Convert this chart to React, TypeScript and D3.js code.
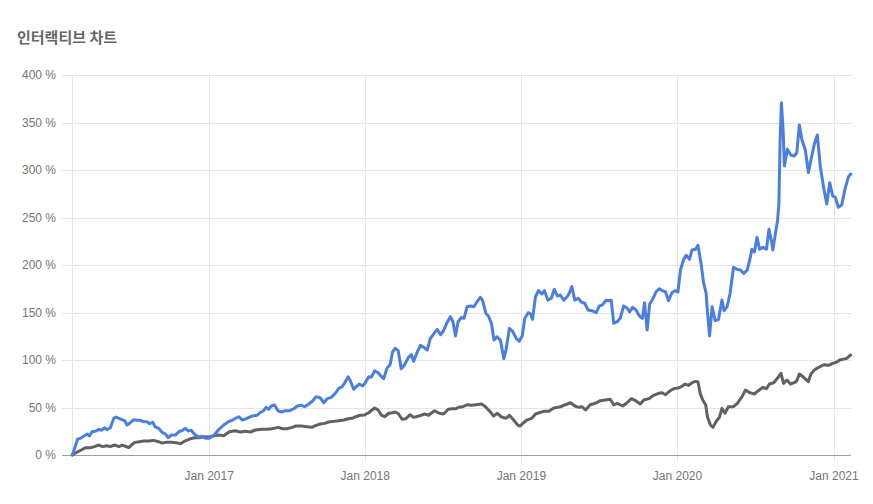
import React from "react";
import * as d3 from "d3";

const chartTitle = "인터랙티브 차트";
const yTickValues = [0, 50, 100, 150, 200, 250, 300, 350, 400];
const xTickDates = ["2017-01-01", "2018-01-01", "2019-01-01", "2020-01-01", "2021-01-01"];

const blueDates = [
  "2016-02-16","2016-02-29","2016-03-06","2016-03-14","2016-03-22","2016-03-27","2016-04-02","2016-04-10","2016-04-18","2016-04-24",
  "2016-05-02","2016-05-07","2016-05-15","2016-05-23","2016-05-28","2016-06-04","2016-06-12","2016-06-18","2016-06-23","2016-06-30",
  "2016-07-08","2016-07-16","2016-07-24","2016-08-01","2016-08-09","2016-08-14","2016-08-22","2016-08-28","2016-09-05","2016-09-13",
  "2016-09-21","2016-09-27","2016-10-05","2016-10-14","2016-10-22","2016-10-31","2016-11-06","2016-11-13","2016-11-20","2016-11-28",
  "2016-12-06","2016-12-15","2016-12-23","2017-01-01","2017-01-11","2017-01-23","2017-02-04","2017-02-15","2017-02-23","2017-03-02",
  "2017-03-11","2017-03-20","2017-03-30","2017-04-11","2017-04-23","2017-04-30","2017-05-08","2017-05-14","2017-05-20","2017-05-26",
  "2017-06-03","2017-06-11","2017-06-19","2017-06-28","2017-07-08","2017-07-18","2017-07-26","2017-08-05","2017-08-12","2017-08-22",
  "2017-08-31","2017-09-08","2017-09-18","2017-09-26","2017-10-04","2017-10-14","2017-10-23","2017-10-31","2017-11-08","2017-11-14",
  "2017-11-22","2017-11-27","2017-12-05","2017-12-11","2017-12-18","2017-12-26","2018-01-01","2018-01-09","2018-01-15","2018-01-23",
  "2018-01-31","2018-02-08","2018-02-13","2018-02-21","2018-02-28","2018-03-06","2018-03-12","2018-03-19","2018-03-26","2018-04-03",
  "2018-04-12","2018-04-19","2018-04-24","2018-05-02","2018-05-10","2018-05-18","2018-05-26","2018-06-02","2018-06-10","2018-06-18",
  "2018-06-26","2018-07-03","2018-07-11","2018-07-19","2018-07-25","2018-07-31","2018-08-06","2018-08-14","2018-08-20","2018-08-27",
  "2018-09-04","2018-09-12","2018-09-20","2018-09-27","2018-10-02","2018-10-10","2018-10-16","2018-10-23","2018-10-29","2018-11-05",
  "2018-11-13","2018-11-21","2018-11-26","2018-12-04","2018-12-12","2018-12-20","2018-12-27","2019-01-03","2019-01-09","2019-01-17",
  "2019-01-23","2019-01-27","2019-02-03","2019-02-10","2019-02-18","2019-02-24","2019-03-04","2019-03-12","2019-03-19","2019-03-26",
  "2019-04-02","2019-04-10","2019-04-18","2019-04-23","2019-04-29","2019-05-06","2019-05-14","2019-05-21","2019-05-29","2019-06-06",
  "2019-06-15","2019-06-25","2019-07-02","2019-07-10","2019-07-18","2019-07-24","2019-07-30","2019-08-05","2019-08-13","2019-08-20",
  "2019-08-28","2019-09-05","2019-09-11","2019-09-18","2019-09-26","2019-10-04","2019-10-11","2019-10-16","2019-10-22","2019-10-28",
  "2019-11-04","2019-11-12","2019-11-20","2019-11-27","2019-12-04","2019-12-11","2019-12-19","2019-12-27","2020-01-02","2020-01-08",
  "2020-01-15","2020-01-21","2020-01-29","2020-02-04","2020-02-12","2020-02-18","2020-02-25","2020-03-02","2020-03-08","2020-03-11",
  "2020-03-16","2020-03-22","2020-03-29","2020-04-06","2020-04-14","2020-04-19","2020-04-26","2020-05-03","2020-05-11","2020-05-19",
  "2020-05-27","2020-06-04","2020-06-12","2020-06-18","2020-06-23","2020-06-29","2020-07-05","2020-07-11","2020-07-19","2020-07-27",
  "2020-08-02","2020-08-08","2020-08-11","2020-08-17","2020-08-22","2020-08-25","2020-08-28","2020-08-31","2020-09-04","2020-09-07",
  "2020-09-14","2020-09-22","2020-09-30","2020-10-06","2020-10-12","2020-10-18","2020-10-26","2020-11-02","2020-11-08","2020-11-16",
  "2020-11-23","2020-11-30","2020-12-08","2020-12-15","2020-12-22","2020-12-29","2021-01-04","2021-01-11","2021-01-19","2021-01-27",
  "2021-02-04","2021-02-09"
];
const blueValues = [
  0,17,17.5,20,22,20,24.5,25,27,26,
  28.7,26.6,28.7,38.6,40,38.6,37,35.8,31.6,33.7,
  37,36.5,36.5,35,35,33,34.4,29.5,28,24,
  22,18.2,21,21,24.5,26,28,25.3,26,21.8,
  19,19.7,17.6,17.6,20.3,26.6,31.6,35,36.5,38.2,
  40.3,36.8,38.6,41,41.8,44.5,46.6,50.2,48,51.6,
  52.6,46.6,45.3,46.6,46.6,48.7,51.6,52.3,50.8,53.7,
  57,61.4,60,55,59.3,60.7,65,70.2,72,76,
  82.4,78.2,69.2,72,74.7,72.6,76,82.4,81.8,88.7,
  86.6,82.4,80.3,91.6,95,108.7,112.3,109.8,90.8,95,
  102.8,105.6,98.6,107.7,115.4,113.3,110.5,122.8,127.4,132.3,
  126.6,130.8,139.3,145.6,140.3,125.3,140.3,144.9,143.9,156,
  156.8,156,161.8,166,163,149,146.3,138.6,121,124.5,
  121,101.4,110.5,133.3,129.8,122.8,119.7,125.3,143.9,149.8,
  148.4,142.8,166.6,173,169.5,173,163,165,174.4,167.4,
  168.4,163,166.6,170.2,177.2,163,165,161,159.7,152.6,
  151.9,149.8,156.8,158.2,163,162.4,163,138.6,140.3,143.9,
  156.8,154.7,150.5,155.4,152.6,146.3,143.9,160.3,131.6,158.9,
  163.9,171.9,175,173,171.6,162.4,170.8,173,171.6,194.7,
  205.3,210.2,206,215.8,216.5,220.7,201.8,181.4,170.2,150.8,
  125.3,156.1,141.4,142.8,163.2,151.9,156.1,170.2,197.6,195.5,
  194.7,191.2,194.7,205.3,216.5,213.7,229.1,216.5,218.6,216.5,
  237.6,224.5,215.8,233.3,247.4,263.2,331.6,370.8,342,304.2,
  321.8,315.8,314.7,318.2,347.4,331.6,321,297.2,310.5,327.4,
  336.8,303.5,280.7,264.2,286.6,272.6,271.3,260.7,263.2,280.7,
  293,295.8
];

const grayDates = [
  "2016-02-16","2016-02-26","2016-03-08","2016-03-18","2016-03-29","2016-04-08","2016-04-18","2016-04-27","2016-05-07","2016-05-15",
  "2016-05-25","2016-06-04","2016-06-12","2016-06-19","2016-06-27","2016-07-05","2016-07-12","2016-07-22","2016-08-01","2016-08-13",
  "2016-08-24","2016-09-05","2016-09-13","2016-09-22","2016-10-05","2016-10-16","2016-10-26","2016-11-05","2016-11-16","2016-11-28",
  "2016-12-08","2016-12-19","2016-12-31","2017-01-11","2017-01-23","2017-02-04","2017-02-17","2017-03-03","2017-03-15","2017-03-27",
  "2017-04-07","2017-04-19","2017-05-05","2017-05-16","2017-05-28","2017-06-11","2017-06-22","2017-07-02","2017-07-14","2017-07-23",
  "2017-08-05","2017-08-18","2017-08-29","2017-09-08","2017-09-18","2017-09-28","2017-10-07","2017-10-19","2017-10-31","2017-11-12",
  "2017-11-22","2017-12-01","2017-12-10","2017-12-20","2017-12-30","2018-01-09","2018-01-17","2018-01-23","2018-01-31","2018-02-08",
  "2018-02-15","2018-02-25","2018-03-06","2018-03-12","2018-03-20","2018-03-28","2018-04-06","2018-04-16","2018-04-24","2018-05-06",
  "2018-05-20","2018-05-29","2018-06-12","2018-06-23","2018-07-03","2018-07-14","2018-07-23","2018-08-01","2018-08-07","2018-08-17",
  "2018-08-27","2018-09-06","2018-09-17","2018-09-30","2018-10-09","2018-10-20","2018-10-28","2018-11-05","2018-11-15","2018-11-26",
  "2018-12-04","2018-12-14","2018-12-24","2018-12-29","2019-01-06","2019-01-14","2019-01-26","2019-02-03","2019-02-12","2019-02-22",
  "2019-03-06","2019-03-18","2019-04-02","2019-04-14","2019-04-26","2019-05-06","2019-05-15","2019-05-23","2019-05-31","2019-06-11",
  "2019-06-23","2019-07-05","2019-07-16","2019-07-28","2019-08-05","2019-08-13","2019-08-26","2019-09-05","2019-09-15","2019-09-25",
  "2019-10-06","2019-10-14","2019-10-26","2019-11-06","2019-11-18","2019-11-26","2019-12-04","2019-12-13","2019-12-23","2020-01-02",
  "2020-01-10","2020-01-19","2020-01-27","2020-02-04","2020-02-12","2020-02-18","2020-02-23","2020-02-29","2020-03-07","2020-03-11",
  "2020-03-18","2020-03-24","2020-03-31","2020-04-08","2020-04-14","2020-04-21","2020-04-29","2020-05-11","2020-05-20","2020-05-31",
  "2020-06-08","2020-06-18","2020-06-29","2020-07-08","2020-07-19","2020-07-27","2020-08-03","2020-08-13","2020-08-22","2020-08-30",
  "2020-09-05","2020-09-13","2020-09-21","2020-09-30","2020-10-06","2020-10-12","2020-10-22","2020-11-02","2020-11-08","2020-11-16",
  "2020-11-26","2020-12-08","2020-12-19","2020-12-29","2021-01-08","2021-01-14","2021-01-22","2021-01-28","2021-02-01","2021-02-06",
  "2021-02-09"
];
const grayValues = [
  0,2.8,5.3,7.7,7.7,8.8,10.5,8.8,9.8,8.8,
  10.5,8.8,10.5,9.2,7.7,11.2,13.3,14,14.7,14.7,
  15.4,14,12.6,13.3,13.3,13,11.9,14.7,16.8,18.2,
  18.2,19.3,18.9,20.3,21,20.3,24.5,25.6,24.2,24.9,
  24.2,26.3,27,27,27.7,29.1,27.7,27.7,29.1,30.5,
  30.5,29.8,29.1,31.2,32.6,33.3,34.7,35.4,36.1,36.8,
  38.2,38.6,40.3,41.8,42.1,44.5,47.4,49.5,47.4,41.8,
  40.3,43.9,44.5,45.3,43.2,37.6,38.2,42.4,39.6,41,
  43.2,41.8,46.6,43.9,43.2,48.1,48.7,48.7,50.2,50.8,
  52.9,52.3,52.9,53.7,50.8,45.6,41,43.9,40.3,38.6,
  41.8,36.8,31.2,30.5,34,36.8,38.9,43.2,44.5,46,
  46,49.5,50.8,52.9,55,51.6,50.2,50.8,47.4,52.9,
  54.4,57.2,57.9,58.6,52.6,54.4,51.6,55,59.3,57.2,
  53.7,57.9,59.3,62.8,64.9,65.6,63.5,67,69.8,70.5,
  71.9,74.7,73.3,76.1,77.5,76.8,64.9,57.9,52.6,40.3,
  31.6,29.1,35,39.6,49.1,43.9,50.8,50.8,54.4,61.4,
  68.4,65.6,64.2,67.7,71.3,69.8,74.7,76.1,81,86,
  75.4,78.9,74.7,76.1,78.2,85.3,81.8,77.2,85.3,89.5,
  92.3,95,94.4,96.5,97.9,100,100.7,101.4,102.1,104.2,
  105.3
];

const W = 873;
const H = 504;
const M = { left: 72, right: 851, top: 75, bottom: 455 };

export default function App() {
  const parse = d3.timeParse("%Y-%m-%d");
  const blue = blueDates.map((d, i) => ({ date: parse(d) as Date, value: blueValues[i] }));
  const gray = grayDates.map((d, i) => ({ date: parse(d) as Date, value: grayValues[i] }));
  const all = blue.concat(gray);
  const x = d3.scaleTime()
    .domain(d3.extent(all, (d) => d.date) as [Date, Date])
    .range([M.left + 0.3, M.right - 0.3]);
  const y = d3.scaleLinear().domain([0, 400]).range([M.bottom, M.top]);
  const line = d3.line<{ date: Date; value: number }>()
    .x((d) => x(d.date))
    .y((d) => y(d.value))
    .curve(d3.curveLinear);
  const xTicks = xTickDates.map((d) => parse(d) as Date);
  const fmt = d3.timeFormat("%b %Y");
  const labelFont = "'Liberation Sans', Arial, sans-serif";

  return (
    <div style={{ position: "fixed", left: 0, top: 0, width: W, height: H, background: "#fff" }}>
      <svg width={W} height={H} style={{ display: "block" }}>
        <text x={17} y={43} fontFamily="'Noto Sans CJK KR', sans-serif" fontSize={15} fontWeight={700} fill="#666">
          {chartTitle}
        </text>
        {yTickValues.map((v) => (
          <g key={"y" + v}>
            <line
              x1={M.left - 10}
              x2={M.right}
              y1={Math.round(y(v)) + 0.5}
              y2={Math.round(y(v)) + 0.5}
              stroke={v === 0 ? "#9e9e9e" : "#e5e5e5"}
              strokeWidth={1}
            />
            <text
              x={56}
              y={y(v)}
              dy="0.35em"
              textAnchor="end"
              fontFamily={labelFont}
              fontSize={12}
              fill="#757575"
            >
              {v + " %"}
            </text>
          </g>
        ))}
        <line x1={M.left + 0.5} x2={M.left + 0.5} y1={M.top} y2={M.bottom} stroke="#e5e5e5" />
        {xTicks.map((d) => (
          <g key={"x" + d.getFullYear()}>
            <line
              x1={Math.round(x(d)) + 0.5}
              x2={Math.round(x(d)) + 0.5}
              y1={M.top}
              y2={M.bottom + 7}
              stroke="#e5e5e5"
            />
            <text
              x={x(d)}
              y={480}
              textAnchor="middle"
              fontFamily={labelFont}
              fontSize={12}
              fill="#757575"
            >
              {fmt(d)}
            </text>
          </g>
        ))}
        <line x1={M.left - 10} x2={M.right} y1={M.bottom + 0.5} y2={M.bottom + 0.5} stroke="#9e9e9e" />
        <path d={line(gray) || ""} fill="none" stroke="#616161" strokeWidth={3} strokeLinejoin="round" strokeLinecap="round" />
        <path d={line(blue) || ""} fill="none" stroke="#4a7fe0" strokeWidth={3} strokeLinejoin="round" strokeLinecap="round" />
      </svg>
    </div>
  );
}
